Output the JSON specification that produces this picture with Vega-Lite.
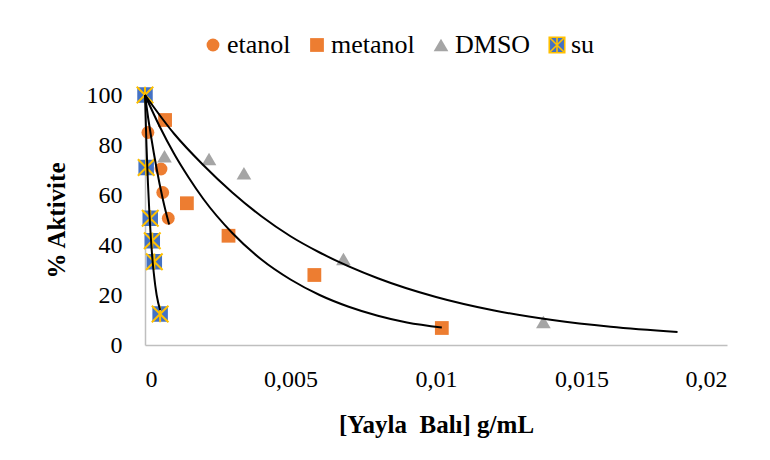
{
  "$schema": "https://vega.github.io/schema/vega-lite/v6.json",
  "autosize": {"type": "none"},
  "width": 582,
  "height": 250,
  "padding": {"left": 145, "top": 95, "right": 43, "bottom": 115},
  "background": "white",
  "config": {
    "view": {"stroke": null},
    "font": "Liberation Serif",
    "axis": {
      "labelFont": "Liberation Serif",
      "labelFontSize": 24,
      "labelColor": "black",
      "titleFont": "Liberation Serif",
      "titleFontSize": 25,
      "titleFontWeight": "bold",
      "titleColor": "black",
      "domainColor": "#BFBFBF",
      "domainWidth": 1.5,
      "ticks": false,
      "grid": false
    },
    "legend": {
      "labelFont": "Liberation Serif",
      "labelFontSize": 26,
      "labelColor": "black"
    }
  },
  "datasets": {
    "points": [
      {"series": "etanol", "x": 0, "y": 100},
      {"series": "etanol", "x": 0.0001, "y": 85},
      {"series": "etanol", "x": 0.00055, "y": 70.4},
      {"series": "etanol", "x": 0.00061, "y": 61},
      {"series": "etanol", "x": 0.0008, "y": 50.7},
      {"series": "metanol", "x": 0, "y": 100},
      {"series": "metanol", "x": 0.00069, "y": 90},
      {"series": "metanol", "x": 0.00144, "y": 56.7},
      {"series": "metanol", "x": 0.00287, "y": 43.7},
      {"series": "metanol", "x": 0.00582, "y": 28},
      {"series": "metanol", "x": 0.0102, "y": 6.8},
      {"series": "DMSO", "x": 0, "y": 100},
      {"series": "DMSO", "x": 0.00067, "y": 75.5},
      {"series": "DMSO", "x": 0.0022, "y": 74.4},
      {"series": "DMSO", "x": 0.0034, "y": 68.7},
      {"series": "DMSO", "x": 0.00682, "y": 34.4},
      {"series": "DMSO", "x": 0.01369, "y": 9.2},
      {"series": "su", "x": 0, "y": 100},
      {"series": "su", "x": 0.00004, "y": 71},
      {"series": "su", "x": 0.00018, "y": 50.7},
      {"series": "su", "x": 0.00025, "y": 41.7},
      {"series": "su", "x": 0.00032, "y": 33.3},
      {"series": "su", "x": 0.00052, "y": 12.4}
    ],
    "fits": [
      {"series": "su", "x": 0, "y": 100},
      {"series": "su", "x": 0.00005, "y": 80},
      {"series": "su", "x": 0.0001, "y": 65},
      {"series": "su", "x": 0.00015, "y": 53},
      {"series": "su", "x": 0.0002, "y": 43},
      {"series": "su", "x": 0.00025, "y": 35},
      {"series": "su", "x": 0.0003, "y": 29},
      {"series": "su", "x": 0.0004, "y": 20},
      {"series": "su", "x": 0.00052, "y": 14},
      {"series": "etanol", "x": 0, "y": 100},
      {"series": "etanol", "x": 0.0001, "y": 91.5},
      {"series": "etanol", "x": 0.0002, "y": 84},
      {"series": "etanol", "x": 0.0003, "y": 77},
      {"series": "etanol", "x": 0.0004, "y": 70.5},
      {"series": "etanol", "x": 0.0005, "y": 64.5},
      {"series": "etanol", "x": 0.0006, "y": 59},
      {"series": "etanol", "x": 0.0007, "y": 54},
      {"series": "etanol", "x": 0.00083, "y": 48.2},
      {"series": "metanol", "x": 0, "y": 100},
      {"series": "metanol", "x": 0.0005, "y": 87.5},
      {"series": "metanol", "x": 0.001, "y": 76.5},
      {"series": "metanol", "x": 0.0015, "y": 67},
      {"series": "metanol", "x": 0.002, "y": 58.5},
      {"series": "metanol", "x": 0.003, "y": 44.8},
      {"series": "metanol", "x": 0.004, "y": 34.2},
      {"series": "metanol", "x": 0.005, "y": 26.2},
      {"series": "metanol", "x": 0.006, "y": 20},
      {"series": "metanol", "x": 0.007, "y": 15.3},
      {"series": "metanol", "x": 0.008, "y": 11.7},
      {"series": "metanol", "x": 0.009, "y": 9},
      {"series": "metanol", "x": 0.0102, "y": 7},
      {"series": "DMSO", "x": 0, "y": 100},
      {"series": "DMSO", "x": 0.001, "y": 84.5},
      {"series": "DMSO", "x": 0.002, "y": 72},
      {"series": "DMSO", "x": 0.003, "y": 61},
      {"series": "DMSO", "x": 0.004, "y": 51.5},
      {"series": "DMSO", "x": 0.005, "y": 43.5},
      {"series": "DMSO", "x": 0.006, "y": 37},
      {"series": "DMSO", "x": 0.008, "y": 26.7},
      {"series": "DMSO", "x": 0.01, "y": 19.2},
      {"series": "DMSO", "x": 0.012, "y": 13.8},
      {"series": "DMSO", "x": 0.014, "y": 10},
      {"series": "DMSO", "x": 0.016, "y": 7.3},
      {"series": "DMSO", "x": 0.0183, "y": 5.2}
    ]
  },
  "layer": [
    {
      "data": {"name": "points"},
      "mark": {"type": "point", "filled": true, "opacity": 1, "strokeWidth": 0},
      "encoding": {
        "x": {
          "field": "x", "type": "quantitative",
          "scale": {"domain": [0, 0.02], "nice": false},
          "axis": {
            "values": [0, 0.005, 0.01, 0.015, 0.02],
            "labelExpr": "replace(toString(datum.value), '.', ',')",
            "labelPadding": 22,
            "title": "[Yayla\u00a0 Balı] g/mL",
            "titlePadding": 21
          }
        },
        "y": {
          "field": "y", "type": "quantitative",
          "scale": {"domain": [0, 100], "nice": false},
          "axis": {
            "values": [0, 20, 40, 60, 80, 100],
            "labelPadding": 23,
            "title": "% Aktivite",
            "titlePadding": 17
          }
        },
        "fill": {
          "field": "series", "type": "nominal",
          "scale": {
            "domain": ["etanol", "metanol", "DMSO", "su"],
            "range": ["#ED7D31", "#ED7D31", "#A5A5A5", "#4472C4"]
          },
          "legend": {
            "title": null,
            "orient": "none",
            "direction": "horizontal",
            "legendX": 55,
            "legendY": -63,
            "labelOffset": 1,
            "columnPadding": 13,
            "symbolStrokeWidth": 1.6
          }
        },
        "shape": {
          "field": "series", "type": "nominal",
          "scale": {
            "domain": ["etanol", "metanol", "DMSO", "su"],
            "range": ["circle", "square", "triangle-up", "M-1,-1H1V1H-1Z M-1,-1L1,1 M1,-1L-1,1 M0,-1V1"]
          }
        },
        "size": {
          "field": "series", "type": "nominal",
          "scale": {
            "domain": ["etanol", "metanol", "DMSO", "su"],
            "range": [165, 240, 265, 275]
          }
        }
      }
    },
    {
      "data": {"name": "points"},
      "transform": [{"filter": "datum.series === 'su'"}],
      "mark": {
        "type": "point",
        "shape": "M-1,-1L1,1 M1,-1L-1,1 M0,-1V1",
        "filled": false,
        "strokeWidth": 2,
        "opacity": 1,
        "size": 275
      },
      "encoding": {
        "x": {"field": "x", "type": "quantitative"},
        "y": {"field": "y", "type": "quantitative"},
        "stroke": {
          "field": "series", "type": "nominal",
          "scale": {
            "domain": ["etanol", "metanol", "DMSO", "su"],
            "range": ["transparent", "transparent", "transparent", "#FFC000"]
          }
        }
      }
    },
    {
      "data": {"name": "fits"},
      "mark": {"type": "line", "color": "black", "strokeWidth": 2, "interpolate": "monotone"},
      "encoding": {
        "x": {"field": "x", "type": "quantitative"},
        "y": {"field": "y", "type": "quantitative"},
        "detail": {"field": "series", "type": "nominal"}
      }
    }
  ]
}
